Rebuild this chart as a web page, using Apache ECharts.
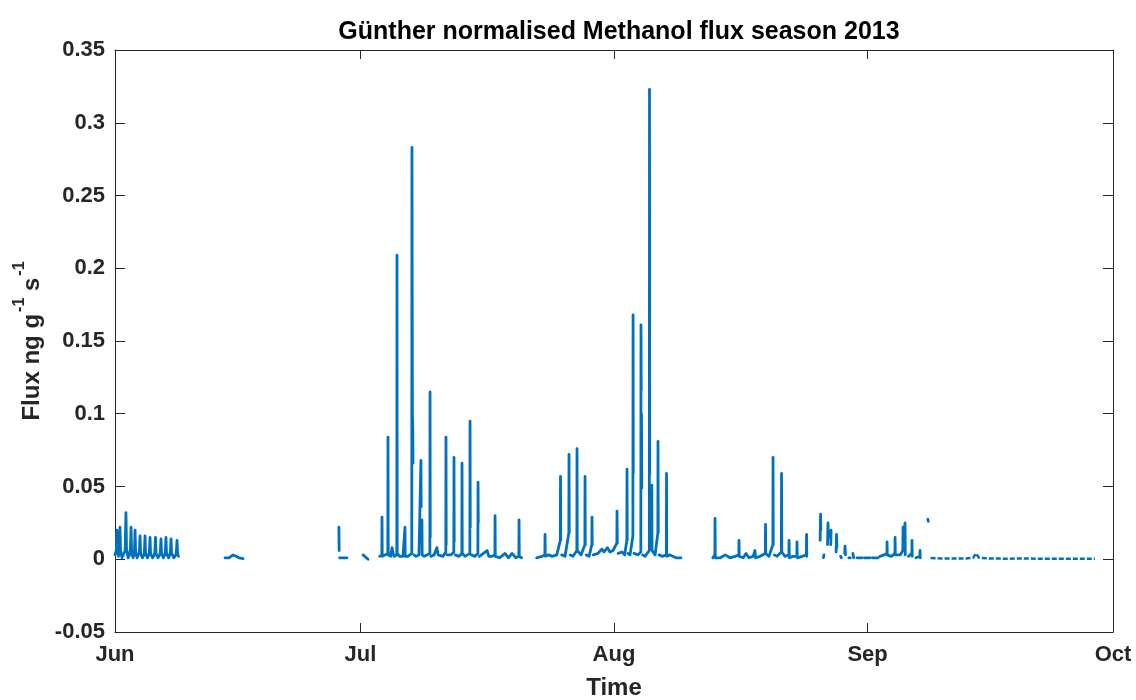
<!DOCTYPE html>
<html>
<head>
<meta charset="utf-8">
<script src="https://cdn.jsdelivr.net/npm/echarts@6/dist/echarts.min.js"></script>
<style>
  html, body { margin: 0; padding: 0; background: #fff; }
  #chart { width: 1136px; height: 700px; }
</style>
</head>
<body>
<div id="chart"></div>
<script>
// Normalised methanol flux, 2013 season. Time is day of year (1 Jan = 1),
// flux in ng g^-1 s^-1. null marks a gap in the record.
const juneEarly = [
  [152.00, 0.003], [152.16, 0.006], [152.24, 0.020], [152.31, 0.006],
  [152.42, 0.002], [152.53, 0.007], [152.61, 0.022], [152.68, 0.006],
  [152.85, 0.001], [153.05, 0.002], [153.24, 0.006], [153.34, 0.032],
  [153.41, 0.007], [153.60, 0.001], [153.80, 0.003], [153.88, 0.007],
  [153.96, 0.022], [154.03, 0.006], [154.20, 0.001], [154.33, 0.003],
  [154.38, 0.006], [154.45, 0.020], [154.52, 0.005], [154.70, 0.001],
  [154.90, 0.002], [154.98, 0.005], [155.06, 0.016], [155.13, 0.004],
  [155.35, 0.001], [155.53, 0.003], [155.59, 0.005], [155.67, 0.016],
  [155.74, 0.004], [155.95, 0.001], [156.13, 0.003], [156.20, 0.005],
  [156.28, 0.015], [156.35, 0.004], [156.60, 0.001], [156.80, 0.003],
  [156.87, 0.005], [156.95, 0.015], [157.02, 0.004], [157.25, 0.001],
  [157.46, 0.003], [157.54, 0.005], [157.62, 0.014], [157.69, 0.004],
  [157.90, 0.001], [158.08, 0.003], [158.15, 0.005], [158.23, 0.015],
  [158.30, 0.004], [158.55, 0.001], [158.70, 0.003], [158.77, 0.005],
  [158.85, 0.014], [158.92, 0.004], [159.20, 0.001], [159.43, 0.003],
  [159.50, 0.005], [159.58, 0.013], [159.65, 0.004], [159.76, 0.002]
];

const juneMid = [
  [165.45, 0.001], [165.94, 0.001], [166.43, 0.003], [166.79, 0.002],
  [167.16, 0.001], [167.65, 0.0005]
];

const juneLate = [
  [179.37, 0.022], [179.40, 0.006], null,
  [179.45, 0.001], [180.36, 0.001], null,
  [182.32, 0.003], [182.93, 0.000]
];

const july = [
  [184.35, 0.002], [184.62, 0.003], [184.64, 0.029], [184.67, 0.002],
  [185.00, 0.003], [185.35, 0.004], [185.37, 0.084], [185.40, 0.003],
  [185.70, 0.002], [185.86, 0.008], [186.00, 0.004], [186.11, 0.002],
  [186.45, 0.003], [186.47, 0.209], [186.50, 0.004], [186.80, 0.002],
  [187.20, 0.002], [187.43, 0.003], [187.45, 0.022], [187.48, 0.002],
  [187.80, 0.002], [188.28, 0.004], [188.30, 0.283], [188.36, 0.100],
  [188.40, 0.090], [188.43, 0.066], null,
  [188.55, 0.003], [188.80, 0.002], [189.16, 0.003], [189.40, 0.068],
  [189.43, 0.036], null,
  [189.52, 0.027], [189.55, 0.003], [189.80, 0.002], [190.14, 0.003],
  [190.49, 0.004], [190.51, 0.115], [190.54, 0.015], null,
  [190.62, 0.002], [191.00, 0.003], [191.36, 0.008], [191.50, 0.003],
  [192.10, 0.002], [192.44, 0.005], [192.46, 0.084], [192.49, 0.010], null,
  [192.60, 0.003], [193.08, 0.003], [193.42, 0.005], [193.44, 0.070],
  [193.47, 0.012], null,
  [193.60, 0.003], [194.05, 0.002], [194.40, 0.004], [194.42, 0.066],
  [194.45, 0.004], [194.80, 0.002], [195.38, 0.004], [195.40, 0.095],
  [195.43, 0.022], null,
  [195.55, 0.003], [196.01, 0.002], [196.36, 0.004], [196.38, 0.053],
  [196.41, 0.025], null,
  [196.55, 0.002], [197.48, 0.006], [197.70, 0.002], [198.09, 0.002],
  [198.44, 0.003], [198.46, 0.030], [198.49, 0.002], [199.00, 0.001],
  [199.68, 0.004], [200.10, 0.001], [200.53, 0.004], [201.00, 0.001],
  [201.37, 0.002], [201.39, 0.027], [201.42, 0.002], [201.70, 0.001]
];

const julyAug = [
  [203.55, 0.001], [204.20, 0.002], [204.55, 0.003], [204.57, 0.017],
  [204.60, 0.002], [205.00, 0.003], [205.42, 0.002], [206.00, 0.003],
  [206.44, 0.013], [206.46, 0.057], [206.49, 0.013], null,
  [206.60, 0.003], [207.01, 0.002], [207.48, 0.018], [207.50, 0.072],
  [207.53, 0.018], null,
  [207.65, 0.003], [207.99, 0.002], [208.46, 0.006], [208.48, 0.076],
  [208.51, 0.006], [208.97, 0.003], [209.44, 0.010], [209.46, 0.057],
  [209.49, 0.010], null,
  [209.60, 0.003], [209.95, 0.002], [210.29, 0.010], [210.31, 0.029],
  [210.34, 0.010], null,
  [210.45, 0.003], [211.05, 0.004], [211.50, 0.007], [211.78, 0.005],
  [212.20, 0.008], [212.51, 0.005], [212.88, 0.006], [213.35, 0.011],
  [213.37, 0.033], [213.40, 0.011], null,
  [213.50, 0.004], [213.98, 0.005], [214.30, 0.003], [214.57, 0.013],
  [214.59, 0.062], [214.62, 0.013], null,
  [214.70, 0.004], [214.96, 0.003], [215.20, 0.004], [215.31, 0.016],
  [215.33, 0.168], [215.36, 0.059], null,
  [215.45, 0.004], [215.94, 0.003], [216.28, 0.005], [216.30, 0.161],
  [216.33, 0.116], null,
  [216.36, 0.100], [216.40, 0.049], null,
  [216.50, 0.003], [216.79, 0.002], [217.32, 0.006], [217.34, 0.323],
  [217.37, 0.058], null,
  [217.62, 0.051], [217.65, 0.006], [218.02, 0.003], [218.36, 0.018],
  [218.38, 0.081], [218.41, 0.018], null,
  [218.50, 0.003], [218.87, 0.002], [219.40, 0.003], [219.42, 0.059],
  [219.45, 0.002], [219.85, 0.003], [220.58, 0.001], [221.19, 0.001]
];

const augSep = [
  [225.08, 0.001], [225.33, 0.003], [225.35, 0.028], [225.38, 0.001],
  [226.00, 0.001], [226.60, 0.003], [227.18, 0.001], [227.80, 0.002],
  [228.26, 0.003], [228.28, 0.013], [228.31, 0.002], [228.80, 0.001],
  [229.14, 0.004], [229.50, 0.001], [230.00, 0.002], [230.22, 0.002],
  [230.24, 0.006], [230.30, 0.001], [230.85, 0.002], [231.50, 0.004],
  [231.52, 0.024], [231.55, 0.004], [231.95, 0.002], [232.42, 0.010],
  [232.44, 0.070], [232.47, 0.010], null,
  [232.60, 0.003], [232.93, 0.002], [233.46, 0.005], [233.48, 0.059],
  [233.51, 0.005], [233.91, 0.002], [234.38, 0.003], [234.40, 0.013],
  [234.43, 0.001], [234.89, 0.002], [235.35, 0.002], [235.37, 0.012],
  [235.40, 0.001], [235.99, 0.002], [236.52, 0.003], [236.54, 0.017],
  [236.57, 0.002], null,
  [238.20, 0.013], [238.25, 0.031], [238.28, 0.020], null,
  [238.60, 0.001], [238.67, 0.003], null,
  [239.10, 0.010], [239.16, 0.025], [239.20, 0.015], null,
  [239.50, 0.010], [239.53, 0.020], null,
  [240.15, 0.005], [240.20, 0.017], [240.25, 0.008], null,
  [240.70, 0.002], [240.80, 0.001], null,
  [241.20, 0.004], [241.24, 0.009], [241.30, 0.003], null,
  [241.70, 0.001], [241.90, 0.001], null,
  [242.20, 0.004], [242.30, 0.001], null,
  [242.70, 0.001], [243.30, 0.001], null,
  [243.60, 0.001], [244.30, 0.001], null,
  [244.60, 0.001], [245.30, 0.001], null,
  [245.50, 0.002], [246.00, 0.003], [246.36, 0.004], [246.38, 0.012],
  [246.41, 0.003], [246.90, 0.002], [247.34, 0.004], [247.36, 0.015],
  [247.39, 0.003], [248.00, 0.003], [248.31, 0.006], [248.33, 0.022],
  [248.36, 0.010], [248.56, 0.010], [248.58, 0.025], [248.61, 0.003], null,
  [249.00, 0.002], [249.41, 0.004], [249.43, 0.013], [249.46, 0.002], null,
  [249.90, 0.001], [250.39, 0.002], [250.41, 0.006], [250.44, 0.001], null,
  [251.37, 0.0275], [251.42, 0.026]
];

// Sparse end of season record (drawn dashed)
const septTail = [
  [251.70, 0.0008], [253.00, 0.0005], [254.50, 0.0006], [256.00, 0.0005],
  [256.90, 0.0010], [257.26, 0.0040], [257.60, 0.0010], [259.00, 0.0005],
  [261.00, 0.0004], [263.00, 0.0005], [265.00, 0.0004], [267.00, 0.0004],
  [269.00, 0.0004], [271.80, 0.0004]
];

// Month ticks (day of year of the 1st of each month)
const monthDays = [152, 182, 213, 244, 274];
const monthLabels = ['Jun', 'Jul', 'Aug', 'Sep', 'Oct'];

const yTicks = [-0.05, 0, 0.05, 0.1, 0.15, 0.2, 0.25, 0.3, 0.35];

// Join the segments, turning each null into a break in the line
function toSeries(parts) {
  const out = [];
  parts.forEach((seg, i) => {
    if (i > 0) out.push([seg[0][0], '-']);
    seg.forEach((p, j) => {
      if (p === null) {
        out.push([seg[j - 1][0], '-']);
      } else {
        out.push(p);
      }
    });
  });
  return out;
}

const mainData = toSeries([juneEarly, juneMid, juneLate, july, julyAug, augSep]);

const ink = '#262626';
const lineBlue = '#0072BD';
const fontFamily = '"Liberation Sans", Arial, Helvetica, sans-serif';
const tickFont = 22;
const labelFont = 24;
const titleFont = 25;

const chart = echarts.init(document.getElementById('chart'), null, { renderer: 'canvas' });

const baseX = {
  type: 'value',
  min: monthDays[0],
  max: monthDays[monthDays.length - 1],
  splitLine: { show: false },
  axisLine: { show: true, onZero: false, lineStyle: { color: ink, width: 1 } },
  axisTick: { show: true, inside: true, length: 9, customValues: monthDays, lineStyle: { color: ink } }
};

const baseY = {
  type: 'value',
  min: yTicks[0],
  max: yTicks[yTicks.length - 1],
  interval: 0.05,
  splitLine: { show: false },
  axisLine: { show: true, onZero: false, lineStyle: { color: ink, width: 1 } },
  axisTick: { show: true, inside: true, length: 10, lineStyle: { color: ink } }
};

const option = {
  backgroundColor: '#ffffff',
  animation: false,
  textStyle: { fontFamily: fontFamily },
  title: {
    text: 'Günther normalised Methanol flux season 2013',
    left: 614,
    top: 15,
    textAlign: 'center',
    textStyle: { fontFamily: fontFamily, fontSize: titleFont, fontWeight: 'bold', color: '#000' }
  },
  grid: { left: 115, right: 23, top: 50, bottom: 68, containLabel: false, outerBoundsMode: 'none' },
  xAxis: [
    Object.assign({}, baseX, {
      position: 'bottom',
      name: 'Time',
      nameLocation: 'middle',
      nameGap: 44,
      nameTextStyle: { fontFamily: fontFamily, fontSize: labelFont, fontWeight: 'bold', color: ink },
      axisLabel: {
        show: true,
        customValues: monthDays,
        margin: 12,
        fontFamily: fontFamily,
        fontSize: tickFont,
        fontWeight: 'bold',
        color: ink,
        formatter: (v) => monthLabels[monthDays.indexOf(Math.round(v))] || ''
      }
    }),
    Object.assign({}, baseX, { position: 'top', axisLabel: { show: false } })
  ],
  yAxis: [
    Object.assign({}, baseY, {
      position: 'left',
      name: '{m|Flux ng g}{s|-1}{m| s}{s|-1}',
      nameLocation: 'middle',
      nameGap: 68,
      nameRotate: 90,
      nameTextStyle: {
        fontFamily: fontFamily,
        color: ink,
        rich: {
          m: { fontFamily: fontFamily, fontSize: labelFont, fontWeight: 'bold', color: ink, lineHeight: 32, verticalAlign: 'bottom' },
          s: { fontFamily: fontFamily, fontSize: 16, fontWeight: 'bold', color: ink, lineHeight: 32, verticalAlign: 'top', padding: [0, 0, 0, 2] }
        }
      },
      axisLabel: {
        show: true,
        margin: 10,
        fontFamily: fontFamily,
        fontSize: tickFont,
        fontWeight: 'bold',
        color: ink,
        formatter: (v) => String(Math.round(v * 100) / 100)
      }
    }),
    Object.assign({}, baseY, { position: 'right', axisLabel: { show: false } })
  ],
  series: [
    {
      type: 'line',
      xAxisIndex: 0,
      yAxisIndex: 0,
      data: mainData,
      showSymbol: false,
      connectNulls: false,
      sampling: null,
      lineStyle: { color: lineBlue, width: 2.8, cap: 'round', join: 'round' },
      itemStyle: { color: lineBlue },
      silent: true
    },
    {
      type: 'line',
      xAxisIndex: 0,
      yAxisIndex: 0,
      data: septTail,
      showSymbol: false,
      lineStyle: { color: lineBlue, width: 2.5, type: [5, 2] },
      itemStyle: { color: lineBlue },
      silent: true
    }
  ]
};

chart.setOption(option);
</script>
</body>
</html>
